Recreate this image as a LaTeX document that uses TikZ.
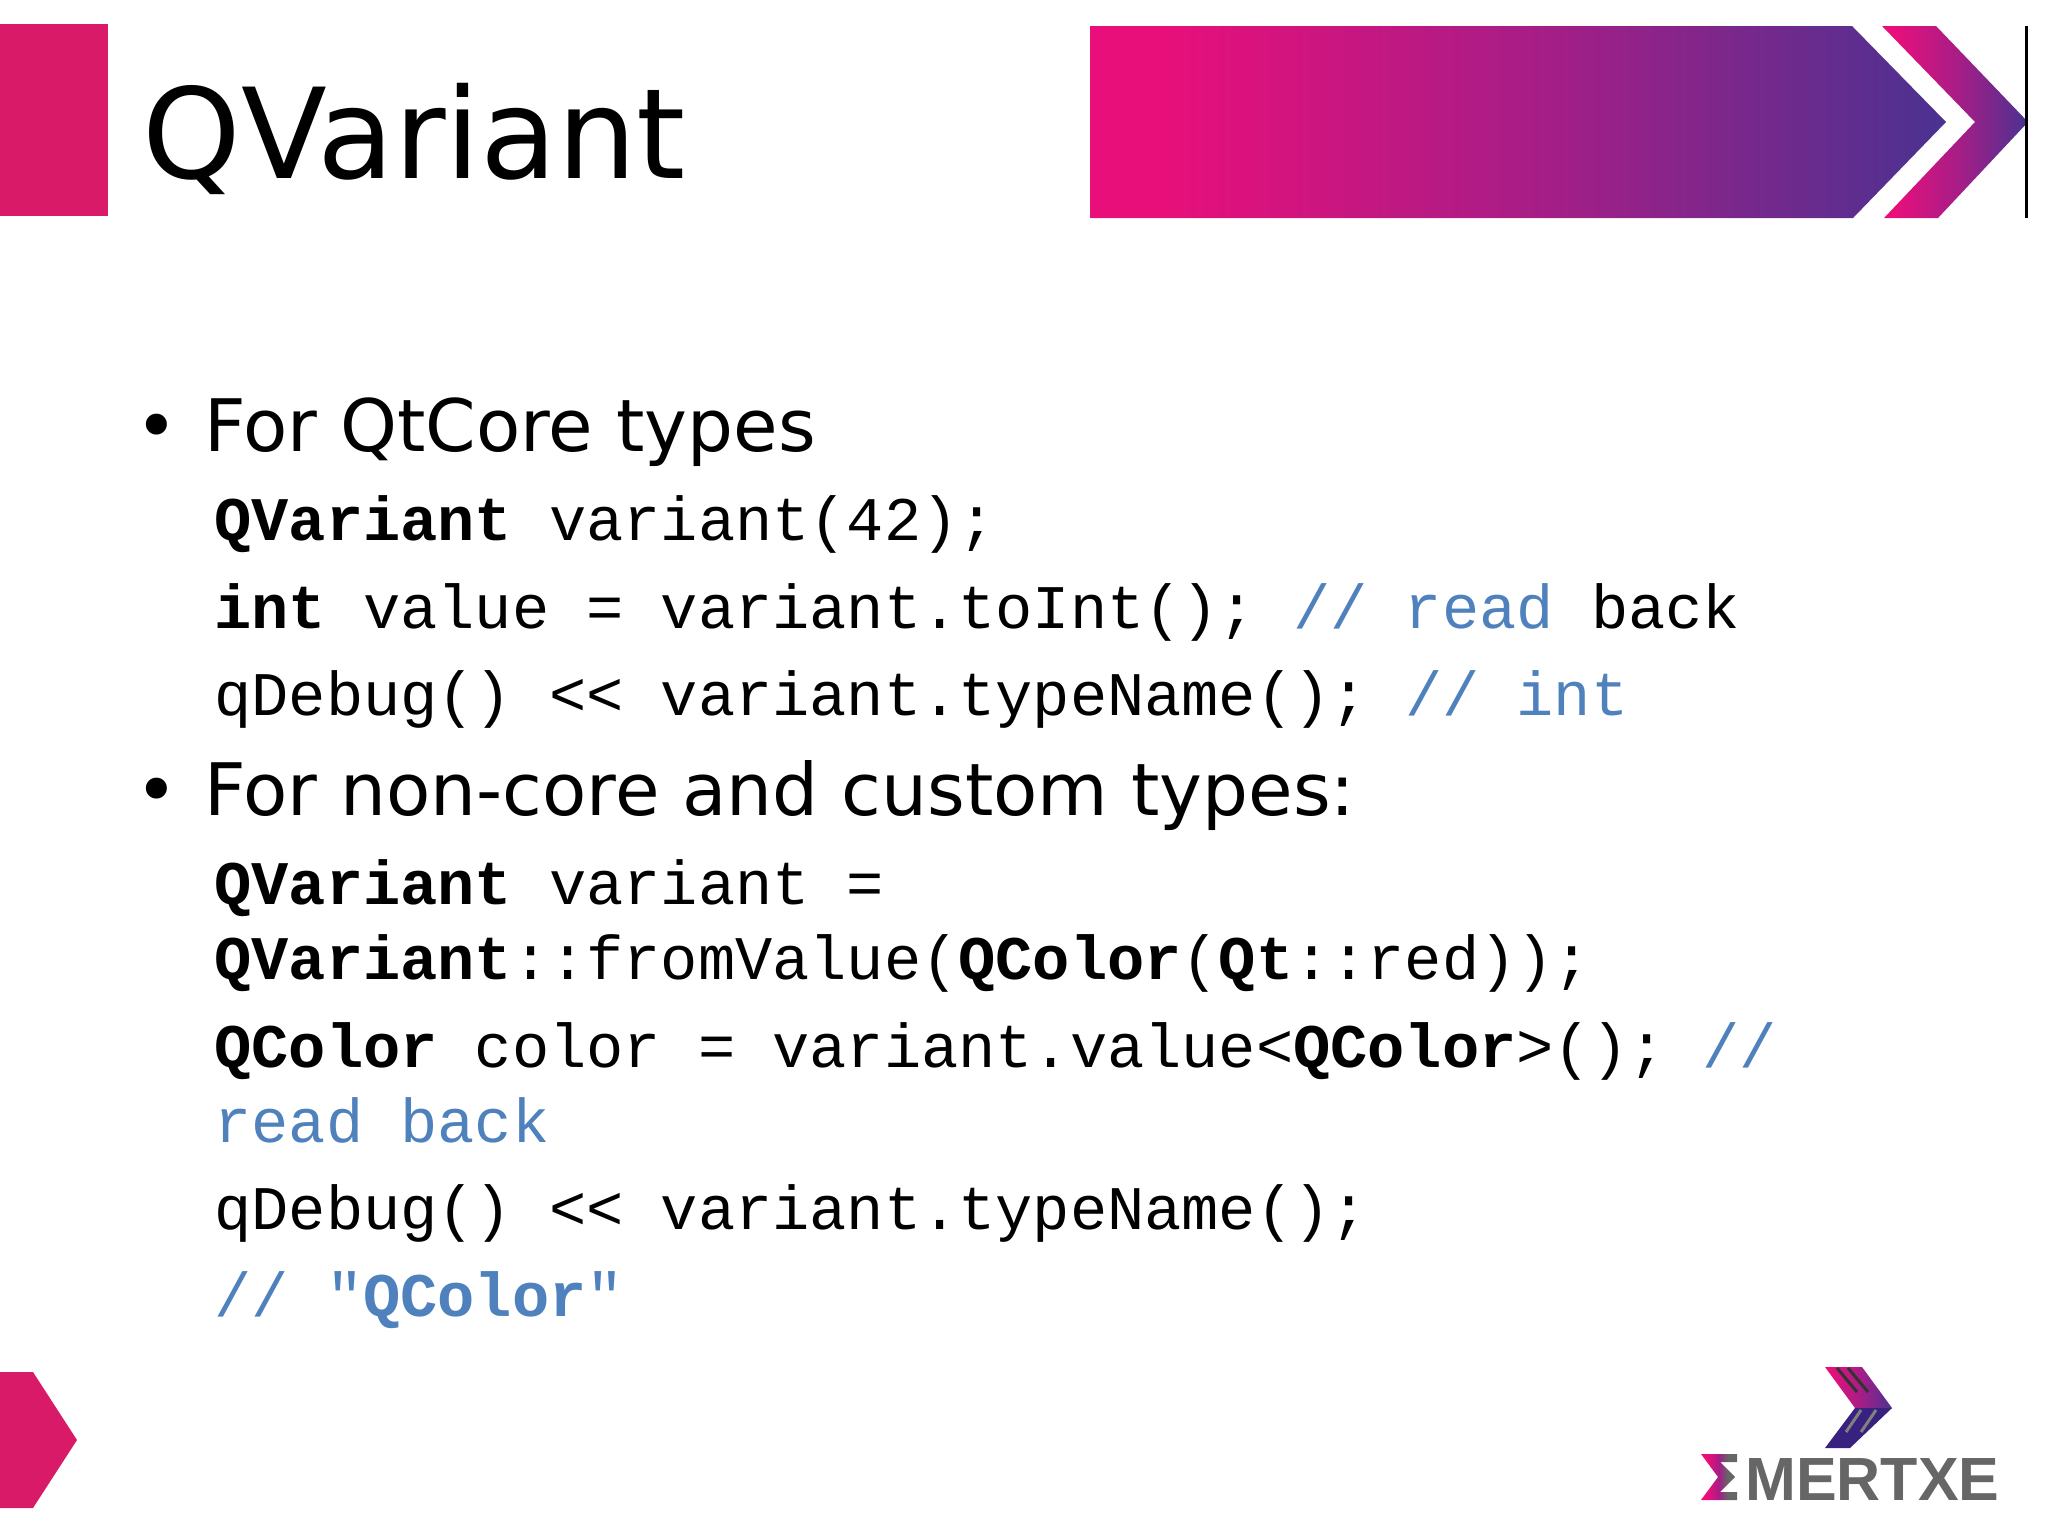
\documentclass[tikz,border=0pt]{standalone}
\usepackage{fontspec}
\setmainfont{DejaVu Sans}
\setmonofont{Liberation Mono}
\newfontfamily\logofont{Liberation Sans}

\definecolor{slidepink}{HTML}{D91A68}
\definecolor{fadepink}{HTML}{E90F7A}
\definecolor{fademid}{HTML}{A41E87}
\definecolor{fadeblue}{HTML}{4A3291}
\definecolor{logoblue}{HTML}{38217F}
\definecolor{logogray}{HTML}{666666}
\definecolor{commentblue}{HTML}{4F81BD}

\pgfdeclarehorizontalshading{bannerfade}{100bp}{color(0bp)=(fadepink); color(29bp)=(fadepink); color(52bp)=(fademid); color(75bp)=(fadeblue); color(100bp)=(fadeblue)}
\pgfdeclarehorizontalshading{sigmafade}{100bp}{color(0bp)=(fadepink); color(35bp)=(fadepink); color(50bp)=(fademid); color(62bp)=(logogray); color(100bp)=(logogray)}

\tikzset{
	titletext/.style={anchor=base west, inner sep=0pt, font=\fontsize{62.7}{74}\selectfont},
	bullettext/.style={anchor=base west, inner sep=0pt, font=\fontsize{36.2}{45}\selectfont},
	codetext/.style={anchor=base west, inner sep=0pt, font=\fontsize{31}{37}\selectfont\ttfamily},
	logotext/.style={anchor=base west, inner sep=0pt, text=logogray, font=\fontsize{30.5}{38}\selectfont\logofont\bfseries},
}
\newcommand{\kw}[1]{\textbf{#1}}
\newcommand{\cmt}[1]{\textcolor{commentblue}{#1}}

\begin{document}
\begin{tikzpicture}[x=0.5pt, y=-0.5pt]
	\useasboundingbox (0,0) rectangle (2048,1537);

	\fill[slidepink] (0,24) rectangle (108,216);
	\fill[slidepink] (0,1372) -- (33,1372) -- (77,1440) -- (33,1508) -- (0,1508) -- cycle;
	\shade[shading=bannerfade] (1090,26) -- (1852,26) -- (1946,122) -- (1853,218) -- (1090,218) -- cycle;
	\shade[shading=bannerfade] (1882,26) -- (1936,26) -- (2028,122) -- (1938,218) -- (1884,218) -- (1975,122) -- cycle;
	\draw[line width=1.5pt] (2026,26) -- (2026,218);

	\node[titletext] (title) at (142,178) {QVariant};

	\node[bullettext] (dotA) at (135,451) {•};
	\node[bullettext] (coreHead) at (204,451) {For QtCore types};
	\node[codetext] (coreA) at (214,540) {\kw{QVariant} variant(42);};
	\node[codetext] (coreB) at (214,628) {\kw{int} value = variant.toInt(); \cmt{// read} back};
	\node[codetext] (coreC) at (214,715) {qDebug() << variant.typeName(); \cmt{// int}};

	\node[bullettext] (dotB) at (135,815) {•};
	\node[bullettext] (customHead) at (204,815) {For non-core and custom types:};
	\node[codetext] (customA) at (214,904) {\kw{QVariant} variant =};
	\node[codetext] (customB) at (214,979) {\kw{QVariant}::fromValue(\kw{QColor}(\kw{Qt}::red));};
	\node[codetext] (customC) at (214,1067) {\kw{QColor} color = variant.value<\kw{QColor}>(); \cmt{//}};
	\node[codetext] (customD) at (214,1142) {\cmt{read back}};
	\node[codetext] (customE) at (214,1229) {qDebug() << variant.typeName();};
	\node[codetext] (customF) at (214,1316) {\cmt{// "\kw{QColor}"}};

	\shade[shading=bannerfade] (1825,1367) -- (1862,1367) -- (1892,1408) -- (1855,1408) -- cycle;
	\fill[logoblue] (1855,1408) -- (1892,1408) -- (1850,1448) -- (1825,1448) -- cycle;
	\foreach \xa in {1837,1848} {
		\draw[black!80, line width=1.5pt] (\xa,1368) -- (\xa+20,1392);
	}
	\foreach \xa in {1846,1861} {
		\draw[gray, line width=1.5pt] (\xa,1432) -- (\xa+15,1410);
	}
	\shade[shading=sigmafade] (1701,1454) -- (1737,1454) -- (1737,1462) -- (1720,1462) -- (1735,1477) -- (1720,1492) -- (1737,1492) -- (1737,1500) -- (1701,1500) -- (1718,1477) -- cycle;
	\node[logotext] (logo) at (1745,1500) {MERTXE};
\end{tikzpicture}
\end{document}
